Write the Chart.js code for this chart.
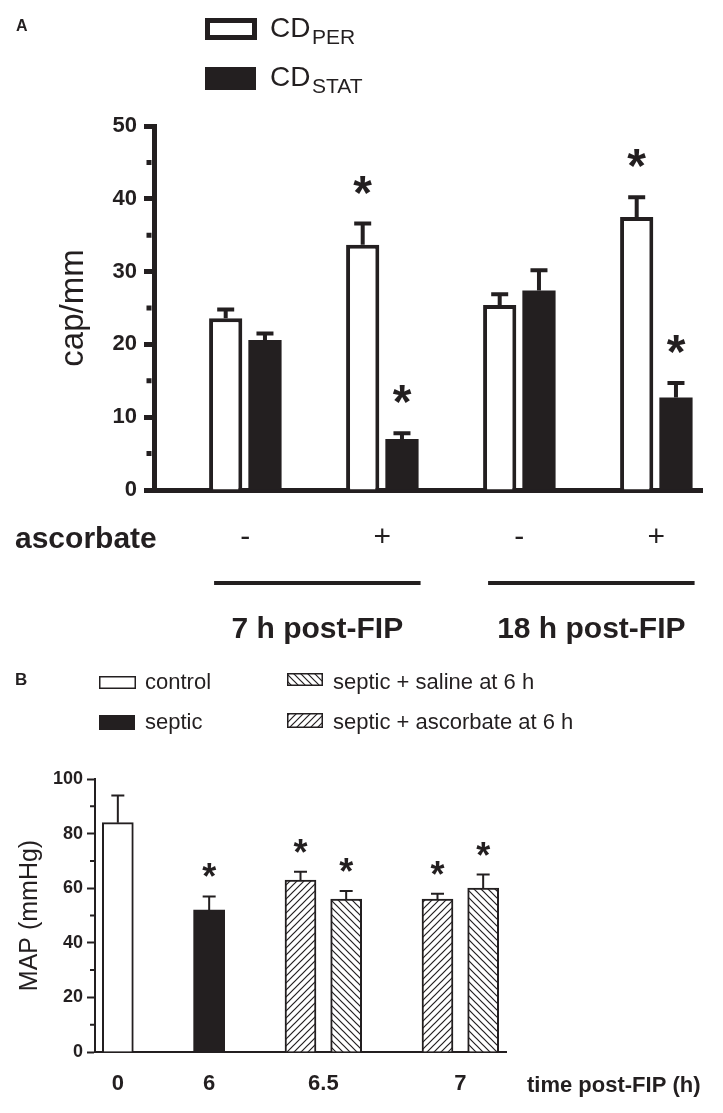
<!DOCTYPE html>
<html>
<head>
<meta charset="utf-8">
<script src="https://cdn.jsdelivr.net/npm/chart.js@4.4.1/dist/chart.umd.min.js"></script>
<style>
  body { margin: 0; background: #fff; }
  #wrap { position: relative; width: 723px; height: 1113px; }
  canvas { position: absolute; left: 0; }
</style>
</head>
<body>
<div id="wrap">
  <canvas id="panelA" width="723" height="660" style="top:0"></canvas>
  <canvas id="panelB" width="723" height="453" style="top:660px"></canvas>
</div>
<script>
const INK = "#231f20";
const FONT = "'Liberation Sans', Arial, Helvetica, sans-serif";

// ---- panel A: capillary density, mean and SEM ----
const treatments = ["-", "+", "-", "+"];
const timepoints = ["7 h post-FIP", "18 h post-FIP"];
const cdPer = [23.6, 33.7, 25.4, 37.5];
const cdPerSem = [1.2, 2.9, 1.5, 2.7];
const cdStat = [20.6, 7.0, 27.4, 12.7];
const cdStatSem = [0.9, 0.8, 2.8, 2.0];
const cdSignif = [false, true, false, true];

// ---- panel B: mean arterial pressure, mean and SEM ----
const mapTimes = ["0", "6", "6.5", "7"];
const controlMap = [84];
const controlSem = [10];
const septicMap = [52];
const septicSem = [5];
const ascorbateMap = [63, 56];
const ascorbateSem = [3, 2];
const salineMap = [56, 60];
const salineSem = [3, 5];

// ---- slots on the category axes (layout only) ----
const A_SLOTS = 13;
const aGroupSlots = [2, 5, 8, 11];
const B_SLOTS = 19;
const bTimeSlots = [1, 5, 10, 16];
const bControlSlots = [1];
const bSepticSlots = [5];
const bAscorbateSlots = [9, 15];
const bSalineSlots = [11, 17];

// ---- helpers ----
function place(values, slots, n) {
  const out = new Array(n).fill(null);
  slots.forEach((s, i) => { out[s] = values[i]; });
  return out;
}

function hatch(ctx, dir) {
  const n = 7;
  const c = document.createElement("canvas");
  c.width = n; c.height = n;
  const g = c.getContext("2d");
  g.fillStyle = "#fff";
  g.fillRect(0, 0, n, n);
  g.strokeStyle = INK;
  g.lineWidth = 1.2;
  g.beginPath();
  if (dir === "/") {
    g.moveTo(-1, n + 1); g.lineTo(n + 1, -1);
    g.moveTo(-1, 1); g.lineTo(1, -1);
    g.moveTo(n - 1, n + 1); g.lineTo(n + 1, n - 1);
  } else {
    g.moveTo(-1, -1); g.lineTo(n + 1, n + 1);
    g.moveTo(-1, n - 1); g.lineTo(1, n + 1);
    g.moveTo(n - 1, -1); g.lineTo(n + 1, 1);
  }
  g.stroke();
  return ctx.createPattern(c, "repeat");
}

function text(ctx, str, x, y, size, weight, align) {
  ctx.font = (weight || "normal") + " " + size + "px " + FONT;
  ctx.textAlign = align || "left";
  ctx.textBaseline = "alphabetic";
  ctx.fillStyle = INK;
  ctx.fillText(str, x, y);
}

// ---- shared plugins ----
const errorBars = {
  id: "errorBars",
  afterDatasetsDraw(chart, args, o) {
    const ctx = chart.ctx;
    const y = chart.scales.y;
    chart.data.datasets.forEach((ds, di) => {
      const meta = chart.getDatasetMeta(di);
      meta.data.forEach((bar, i) => {
        const v = ds.data[i];
        if (v == null) return;
        const top = y.getPixelForValue(v + ds.sem[i]);
        ctx.save();
        ctx.strokeStyle = INK;
        ctx.lineWidth = o.lineWidth;
        ctx.beginPath();
        ctx.moveTo(bar.x, bar.y);
        ctx.lineTo(bar.x, top);
        ctx.moveTo(bar.x - o.cap / 2, top);
        ctx.lineTo(bar.x + o.cap / 2, top);
        ctx.stroke();
        if (ds.stars[i]) {
          text(ctx, "*", bar.x, top - o.starLift, o.starSize, "bold", "center");
        }
        ctx.restore();
      });
    });
  },
};

const minorTicks = {
  id: "minorTicks",
  afterDraw(chart, args, o) {
    const s = chart.scales.y;
    const ctx = chart.ctx;
    const x = chart.chartArea.left - o.axisHalf;
    ctx.save();
    ctx.strokeStyle = INK;
    ctx.lineWidth = o.width;
    ctx.beginPath();
    for (let v = o.from; v < s.max; v += o.step) {
      const py = s.getPixelForValue(v);
      ctx.moveTo(x - o.length, py);
      ctx.lineTo(x, py);
    }
    ctx.stroke();
    ctx.restore();
  },
};

// ---- panel A decorations: letter, legend, row labels, time groups ----
const panelADecor = {
  id: "panelADecor",
  afterDraw(chart) {
    const ctx = chart.ctx;
    ctx.save();
    text(ctx, "A", 16, 31, 16, "bold");

    ctx.strokeStyle = INK;
    ctx.lineWidth = 5;
    ctx.strokeRect(207.5, 20.5, 47, 17);
    ctx.fillStyle = INK;
    ctx.fillRect(205, 67, 51, 23);
    text(ctx, "CD", 270, 37, 28);
    text(ctx, "PER", 312, 44, 21);
    text(ctx, "CD", 270, 86, 28);
    text(ctx, "STAT", 312, 93, 21);

    text(ctx, "ascorbate", 15, 548, 30, "bold");

    const m0 = chart.getDatasetMeta(0);
    const m1 = chart.getDatasetMeta(1);
    timepoints.forEach((t, k) => {
      const first = m0.data[aGroupSlots[2 * k]];
      const last = m1.data[aGroupSlots[2 * k + 1]];
      const x0 = first.x - first.width / 2 + 5;
      const x1 = last.x + last.width / 2 + 2;
      ctx.strokeStyle = INK;
      ctx.lineWidth = 4;
      ctx.beginPath();
      ctx.moveTo(x0, 583);
      ctx.lineTo(x1, 583);
      ctx.stroke();
      text(ctx, t, (x0 + x1) / 2, 638, 30, "bold", "center");
    });
    ctx.restore();
  },
};

// ---- panel B decorations: letter, legend, axis caption ----
const panelBDecor = {
  id: "panelBDecor",
  afterDraw(chart) {
    const ctx = chart.ctx;
    const ds = chart.data.datasets;
    ctx.save();
    text(ctx, "B", 15, 25, 17, "bold");

    ctx.strokeStyle = INK;
    ctx.lineWidth = 1.5;
    ctx.strokeRect(99.75, 16.75, 35.5, 11.5);
    text(ctx, "control", 145, 29, 22);

    ctx.fillStyle = INK;
    ctx.fillRect(99, 55, 36, 15);
    text(ctx, "septic", 145, 69, 22);

    ctx.fillStyle = ds[3].backgroundColor;
    ctx.fillRect(287, 13, 36, 13);
    ctx.strokeRect(287.75, 13.75, 34.5, 11.5);
    text(ctx, "septic + saline at 6 h", 333, 29, 22);

    ctx.fillStyle = ds[2].backgroundColor;
    ctx.fillRect(287, 53, 36, 15);
    ctx.strokeRect(287.75, 53.75, 34.5, 13.5);
    text(ctx, "septic + ascorbate at 6 h", 333, 69, 22);

    text(ctx, "time post-FIP (h)", 527, 432, 22, "bold");
    ctx.restore();
  },
};

Chart.defaults.font.family = FONT;
Chart.defaults.color = INK;

// ---- panel A chart ----
const aLabels = place(treatments, aGroupSlots, A_SLOTS).map((l) => l || "");

new Chart(document.getElementById("panelA"), {
  type: "bar",
  data: {
    labels: aLabels,
    datasets: [
      {
        label: "CD PER",
        data: place(cdPer, aGroupSlots, A_SLOTS),
        sem: place(cdPerSem, aGroupSlots, A_SLOTS),
        stars: place(cdSignif, aGroupSlots, A_SLOTS),
        backgroundColor: "#fff",
        borderColor: INK,
        borderWidth: 4,
        categoryPercentage: 1.72,
        barPercentage: 0.846,
      },
      {
        label: "CD STAT",
        data: place(cdStat, aGroupSlots, A_SLOTS),
        sem: place(cdStatSem, aGroupSlots, A_SLOTS),
        stars: place(cdSignif, aGroupSlots, A_SLOTS),
        backgroundColor: INK,
        borderWidth: 0,
        categoryPercentage: 1.72,
        barPercentage: 0.846,
      },
    ],
  },
  options: {
    responsive: false,
    animation: false,
    devicePixelRatio: 1,
    events: [],
    layout: { padding: { top: 126, right: 21, left: 0, bottom: 0 } },
    plugins: {
      legend: { display: false },
      tooltip: { enabled: false },
      errorBars: { lineWidth: 4, cap: 17, starSize: 48, starLift: 15 },
      minorTicks: { from: 5, step: 10, length: 5, width: 5, axisHalf: 2.5 },
    },
    scales: {
      x: {
        type: "category",
        offset: false,
        grid: { display: false, drawTicks: false },
        border: { display: true, width: 5, color: INK },
        ticks: {
          autoSkip: false,
          maxRotation: 0,
          minRotation: 0,
          padding: 0,
          color: INK,
          font: { size: 30, lineHeight: "96px" },
        },
        afterFit: (s) => { s.height = 170; },
      },
      y: {
        min: 0,
        max: 50,
        ticks: {
          stepSize: 10,
          padding: 7,
          color: INK,
          font: { size: 22, weight: "bold" },
        },
        grid: {
          drawOnChartArea: false,
          drawTicks: true,
          tickLength: 10,
          tickWidth: 5,
          tickColor: INK,
          color: INK,
        },
        border: { display: true, width: 5, color: INK },
        title: {
          display: true,
          text: "cap/mm",
          color: INK,
          font: { size: 33 },
          padding: { top: 54, bottom: 0 },
        },
        afterFit: (s) => { s.width = 154; },
      },
    },
  },
  plugins: [errorBars, minorTicks, panelADecor],
});

// ---- panel B chart ----
const bCanvas = document.getElementById("panelB");
const bCtx = bCanvas.getContext("2d");
const bLabels = place(mapTimes, bTimeSlots, B_SLOTS).map((l) => l || "");

function mapSet(label, values, sem, slots, fill, border, stars) {
  return {
    label,
    data: place(values, slots, B_SLOTS),
    sem: place(sem, slots, B_SLOTS),
    stars: place(values.map(() => stars), slots, B_SLOTS),
    backgroundColor: fill,
    borderColor: INK,
    borderWidth: border,
    grouped: false,
    barThickness: 31,
  };
}

new Chart(bCanvas, {
  type: "bar",
  data: {
    labels: bLabels,
    datasets: [
      mapSet("control", controlMap, controlSem, bControlSlots, "#fff", 2, false),
      mapSet("septic", septicMap, septicSem, bSepticSlots, INK, 0, true),
      mapSet("septic + ascorbate at 6 h", ascorbateMap, ascorbateSem, bAscorbateSlots, hatch(bCtx, "/"), 2, true),
      mapSet("septic + saline at 6 h", salineMap, salineSem, bSalineSlots, hatch(bCtx, "\\"), 2, true),
    ],
  },
  options: {
    responsive: false,
    animation: false,
    devicePixelRatio: 1,
    events: [],
    layout: { padding: { top: 119, right: 217, left: 0, bottom: 0 } },
    plugins: {
      legend: { display: false },
      tooltip: { enabled: false },
      errorBars: { lineWidth: 2, cap: 13, starSize: 36, starLift: 7 },
      minorTicks: { from: 10, step: 20, length: 4, width: 2, axisHalf: 1 },
    },
    scales: {
      x: {
        type: "category",
        offset: false,
        grid: { display: false, drawTicks: false },
        border: { display: true, width: 2, color: INK },
        ticks: {
          autoSkip: false,
          maxRotation: 0,
          minRotation: 0,
          padding: 19,
          color: INK,
          font: { size: 22, weight: "bold" },
        },
        afterFit: (s) => { s.height = 61; },
      },
      y: {
        min: 0,
        max: 100,
        ticks: {
          stepSize: 20,
          padding: 4,
          color: INK,
          font: { size: 18, weight: "bold" },
        },
        grid: {
          drawOnChartArea: false,
          drawTicks: true,
          tickLength: 8,
          tickWidth: 2,
          tickColor: INK,
          color: INK,
        },
        border: { display: true, width: 2, color: INK },
        title: {
          display: true,
          text: "MAP (mmHg)",
          color: INK,
          font: { size: 25 },
          padding: { top: 15, bottom: 0 },
        },
        afterFit: (s) => { s.width = 95; },
      },
    },
  },
  plugins: [errorBars, minorTicks, panelBDecor],
});
</script>
</body>
</html>
